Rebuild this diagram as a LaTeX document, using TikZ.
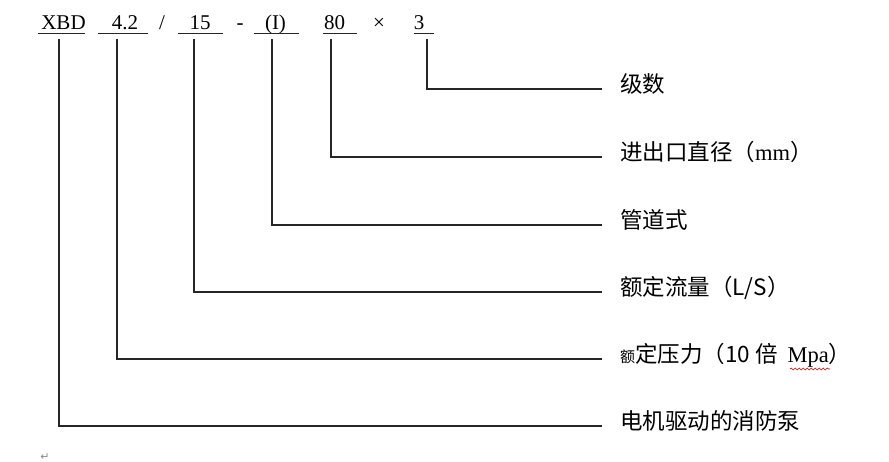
\documentclass[tikz,border=0pt]{standalone}
\usepackage{fontspec}
\setmainfont{Liberation Serif}
\newfontfamily\cjk{Noto Sans CJK SC}
\newfontfamily\symf{DejaVu Sans}
\usetikzlibrary{decorations.pathmorphing}
\begin{document}
\begin{tikzpicture}[x=1pt,y=-1pt,
  code/.style={font=\fontsize{21}{21}\selectfont, anchor=base, inner sep=0pt},
  lbl/.style={font=\fontsize{22.5}{22.5}\selectfont\cjk, anchor=west, inner sep=0pt,
              text height=0.83em, text depth=0.07em},
  lead/.style={line width=1.1pt, draw=black!85, shorten >=18pt},
  uline/.style={line width=1pt, draw=black!85},
  wavy/.style={draw=red!85!black, line width=0.6pt,
               decorate, decoration={snake, amplitude=1pt, segment length=4pt}}]
\useasboundingbox[fill=white] (0,0) rectangle (889,462);

% model code
\node[code] (xbd) at (63.5,30) {XBD};
\node[code] (p42) at (125,30) {4.2};
\node[code] (sl)  at (162,30) {/};
\node[code] (p15) at (200,30) {15};
\node[code] (dsh) at (240,30) {-};
\node[code] (pI)  at (275.5,30) {(I)};
\node[code] (p80) at (334.5,30) {80};
\node[code] (tms) at (379,30) {×};
\node[code] (p3)  at (419,30) {3};

% underlines
\draw[uline] (38,34) -- (85,34);
\draw[uline] (98,34) -- (148,34);
\draw[uline] (178,34) -- (223,34);
\draw[uline] (254,34) -- (299,34);
\draw[uline] (323,34) -- (357,34);
\draw[uline] (414,34) -- (434,34);

% labels
\node[lbl] (l6) at (620,89)  {级数};
\node[lbl] (l5) at (620,157) {进出口直径（{\rmfamily mm}）};
\node[lbl] (l4) at (620,225) {管道式};
\node[lbl] (l3) at (620,292) {额定流量（L/S）};
\node[lbl] (l2) at (620,359) {{\fontsize{15}{15}\selectfont 额}定压力（10\hspace{5pt}倍\hspace{10pt}{\rmfamily Mpa}）};
\node[lbl] (l1) at (620,426) {电机驱动的消防泵};

% connector starts
\coordinate (c1) at (59,39);
\coordinate (c2) at (117,39);
\coordinate (c3) at (194,39);
\coordinate (c4) at (272,39);
\coordinate (c5) at (331,39);
\coordinate (c6) at (427,39);

\draw[lead] (c1) |- (l1.west);
\draw[lead] (c2) |- (l2.west);
\draw[lead] (c3) |- (l3.west);
\draw[lead] (c4) |- (l4.west);
\draw[lead] (c5) |- (l5.west);
\draw[lead] (c6) |- (l6.west);

% spell-check wave under Mpa
\coordinate (w1) at (790,369);
\coordinate (w2) at (830,369);
\draw[wavy] (w1) -- (w2);

% paragraph mark
\node[font=\symf\fontsize{11}{11}\selectfont, text=black!45, anchor=south, inner sep=0pt] (pm) at (45,461) {↵};
\end{tikzpicture}
\end{document}
